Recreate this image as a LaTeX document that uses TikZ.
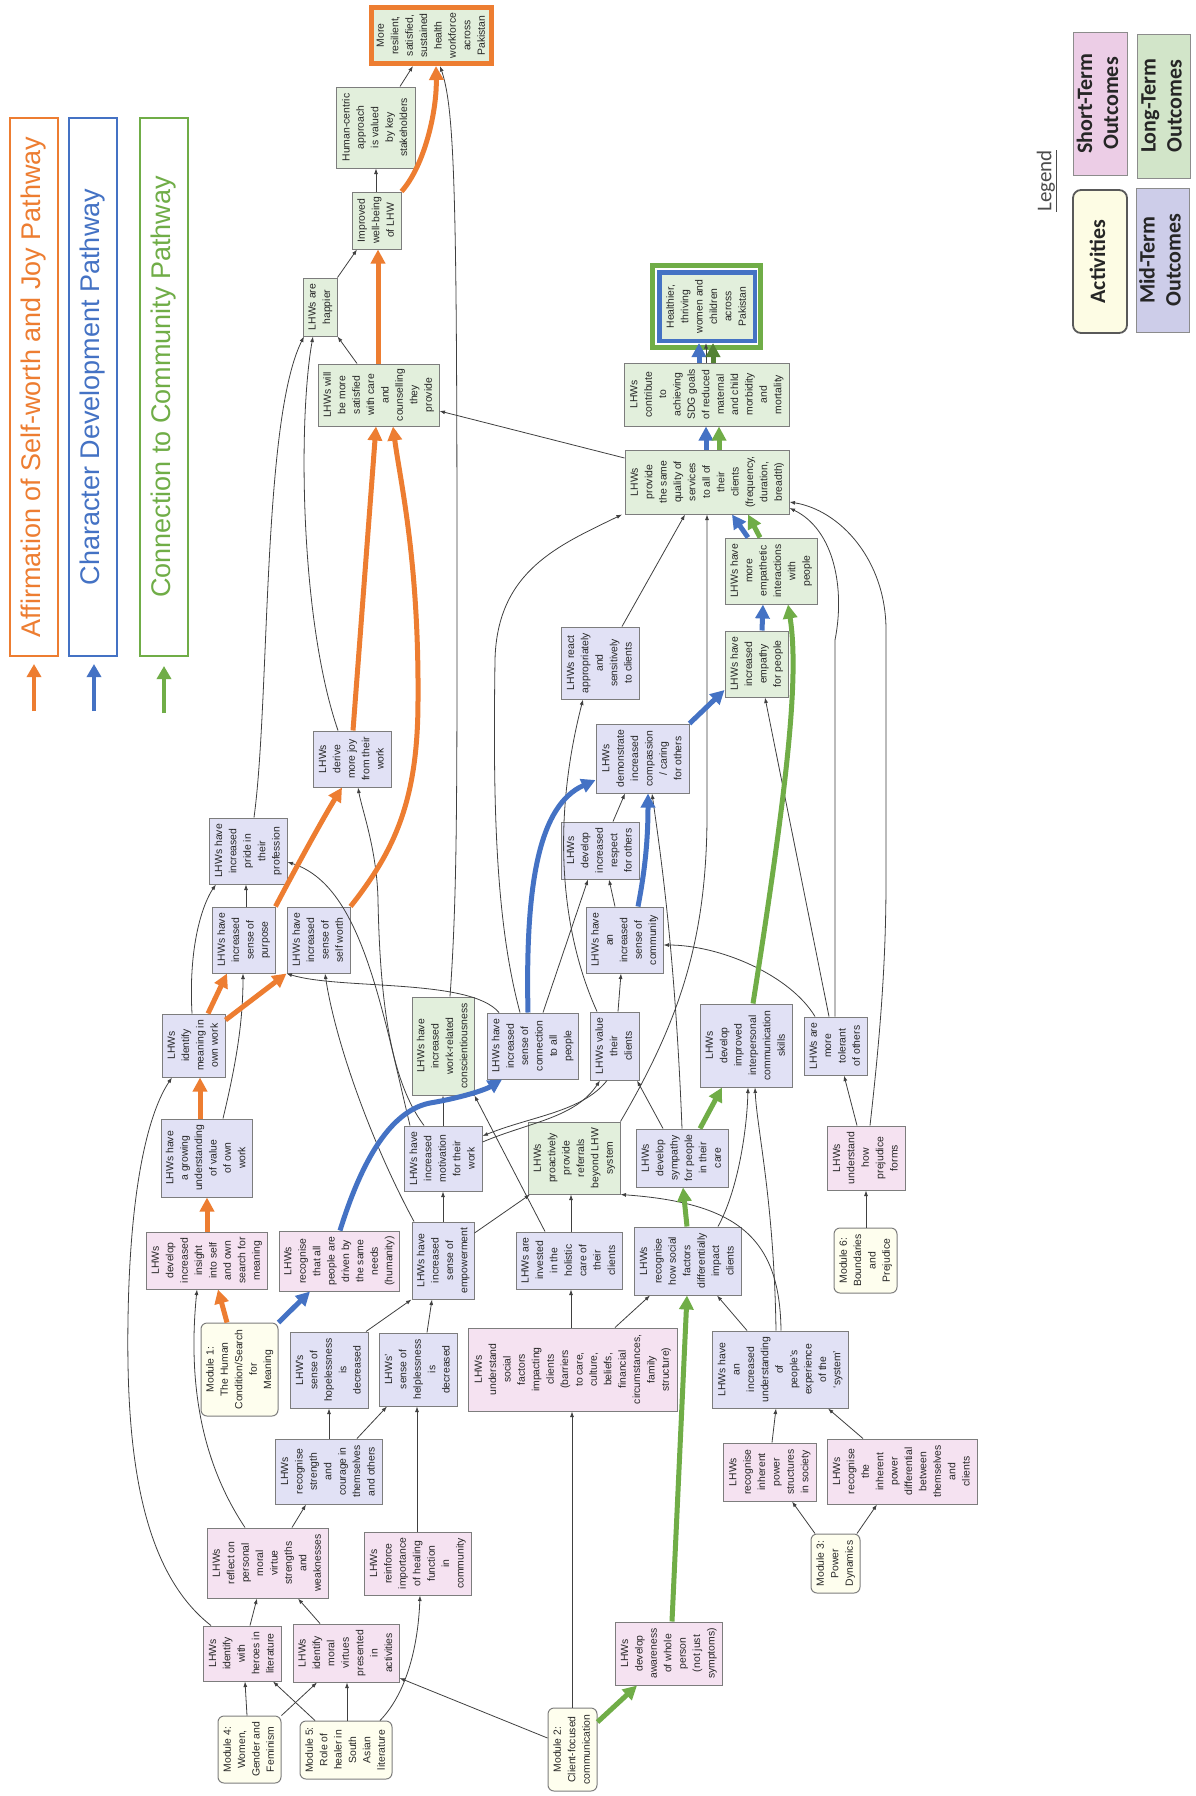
\documentclass[tikz,border=0pt]{standalone}
\usepackage{graphicx}
\usepackage{fontspec}
\setmainfont{Liberation Sans}
\newfontfamily\legfont{Carlito}
\usetikzlibrary{arrows.meta}
\definecolor{cst}{RGB}{245,226,241}
\definecolor{cmt}{RGB}{225,225,245}
\definecolor{clt}{RGB}{226,239,220}
\definecolor{cact}{RGB}{254,254,238}
\definecolor{cbord}{RGB}{125,125,125}
\definecolor{corg}{RGB}{237,125,49}
\definecolor{cblu}{RGB}{68,114,196}
\definecolor{cgrn}{RGB}{112,173,71}
\definecolor{cdgrn}{RGB}{84,130,53}
\definecolor{lpink}{RGB}{236,205,230}
\definecolor{llav}{RGB}{205,205,233}
\definecolor{lgrn}{RGB}{210,229,201}
\definecolor{lyel}{RGB}{253,252,228}
\newcommand\rt[1]{\rotatebox{90}{\begin{tabular}{@{}c@{}}#1\end{tabular}}}
\newcommand\bx[7]{\node[#6, minimum width={(#4)-(#2)}, minimum height={(#5)-(#3)}] (#1) at ({((#2)+(#4))/2},{((#3)+(#5))/2}) {\rt{#7}};}
\tikzset{
 bxs/.style={draw=cbord, line width=1pt, inner sep=0pt, text=black!85, font=\fontsize{10.4}{14.4}\selectfont},
 st/.style={bxs, fill=cst}, mt/.style={bxs, fill=cmt}, lt/.style={bxs, fill=clt},
 act/.style={bxs, fill=cact, rounded corners=6pt},
 th/.style={draw=black!75, line width=0.8pt, -{Latex[length=5.5pt,width=4pt]}},
 thk/.style={line width=5pt, -{Triangle[length=14pt,width=14pt]}},
 orx/.style={thk, draw=corg}, blx/.style={thk, draw=cblu}, grx/.style={thk, draw=cgrn},
 legbar/.style={line width=1.8pt, inner sep=0pt, minimum width=48, minimum height=538, font=\fontsize{27}{30}\selectfont},
 legbox/.style={draw=black!45, line width=1pt, inner sep=0pt, font=\legfont\bfseries\fontsize{22}{26}\selectfont, text=black!85},
}
\begin{document}
\begin{tikzpicture}[x=1pt,y=-1pt]
\useasboundingbox (0,0) rectangle (1195,1796);
\fill[white] (0,0) rectangle (1195,1796);

% ---------- legend bars ----------
\node[legbar, draw=corg, text=corg] (lgo) at (34,387) {\rotatebox{90}{Affirmation of Self-worth and Joy Pathway}};
\node[legbar, draw=cblu, text=cblu] (lgb) at (93,387) {\rotatebox{90}{Character Development Pathway}};
\node[legbar, draw=cgrn, text=cgrn] (lgg) at (164,387) {\rotatebox{90}{Connection to Community Pathway}};
\coordinate (lao1) at (34,711); \coordinate (lao2) at (34,664);
\coordinate (lab1) at (94,711); \coordinate (lab2) at (94,664);
\coordinate (lag1) at (164,713); \coordinate (lag2) at (164,666);
\draw[line width=4pt, corg, -{Triangle[length=13pt,width=14pt]}] (lao1) -- (lao2);
\draw[line width=4pt, cblu, -{Triangle[length=13pt,width=14pt]}] (lab1) -- (lab2);
\draw[line width=4pt, cgrn, -{Triangle[length=13pt,width=14pt]}] (lag1) -- (lag2);

% ---------- legend key ----------
\node[text=black!70, font=\legfont\fontsize{21}{24}\selectfont, inner sep=0pt] (leg) at (1047,181) {\rotatebox{90}{\underline{Legend}}};
\node[legbox, fill=lpink, minimum width=54, minimum height=143] (kst) at (1100,103.5) {\rt{Short-Term\\Outcomes}};
\node[legbox, fill=lyel, draw=black!65, line width=1.8pt, rounded corners=8pt, minimum width=54, minimum height=143] (kact) at (1100,261.5) {\rt{Activities}};
\node[legbox, fill=lgrn, minimum width=53, minimum height=144] (klt) at (1163.5,106) {\rt{Long-Term\\Outcomes}};
\node[legbox, fill=llav, minimum width=53, minimum height=144] (kmt) at (1162.5,260) {\rt{Mid-Term\\Outcomes}};

% ---------- nodes ----------
\bx{res}{371.5}{7.5}{491.5}{63.5}{lt, draw=corg, line width=5pt}{More\\resilient,\\satisfied,\\sustained\\health\\workforce\\across\\Pakistan}
\draw[cgrn, line width=5pt] (652.5,265.5) rectangle (760.5,347.5);
\bx{hth}{659.25}{272.25}{754.75}{340.75}{lt, draw=cblu, line width=4.5pt}{Healthier,\\thriving\\women and\\children\\across\\Pakistan}
\bx{hc}{336}{87}{415}{168}{lt}{Human-centric\\approach\\is valued\\by key\\stakeholders}
\bx{imp}{352}{192}{401}{249}{lt}{Improved\\well-being\\of LHW}
\bx{hap}{303}{278}{337}{336}{lt}{LHWs are\\happier}
\bx{sat}{318}{364}{439}{426}{lt}{LHWs will\\be more\\satisfied\\with care\\and\\counselling\\they\\provide}
\bx{sdg}{624}{363}{789}{426}{lt}{LHWs\\contribute\\to\\achieving\\SDG goals\\of reduced\\maternal\\and child\\morbidity\\and\\mortality}
\bx{same}{625}{450}{789}{514}{lt}{LHWs\\provide\\the same\\quality of\\services\\to all of\\their\\clients\\(frequency,\\duration,\\breadth)}
\bx{empa}{725}{538}{817}{604}{lt}{LHWs have\\more\\empathetic\\interactions\\with\\people}
\bx{empy}{725}{631}{788}{697}{lt}{LHWs have\\increased\\empathy\\for people}
\bx{react}{561}{627}{639}{699}{mt}{LHWs react\\appropriately\\and\\sensitively\\to clients}
\bx{comp}{596}{724}{689}{793}{mt}{LHWs\\demonstrate\\increased\\compassion\\/ caring\\for others}
\bx{resp}{561}{822}{639}{879}{mt}{LHWs\\develop\\increased\\respect\\for others}
\bx{joy}{313}{731}{391}{787}{mt}{LHWs\\derive\\more joy\\from their\\work}
\bx{pride}{209}{818}{287}{884}{mt}{LHWs have\\increased\\pride in\\their\\profession}
\bx{purp}{212}{907}{275}{973}{mt}{LHWs have\\increased\\sense of\\purpose}
\bx{worth}{287}{907}{350}{973}{mt}{LHWs have\\increased\\sense of\\self worth}
\bx{mean}{162}{1014}{225}{1077}{mt}{LHWs\\identify\\meaning in\\own work}
\bx{grow}{161}{1119}{252}{1197}{mt}{LHWs have\\a growing\\understanding\\of value\\of own\\work}
\bx{cons}{412}{997}{474}{1095}{lt}{LHWs have\\increased\\work-related\\conscientiousness}
\bx{conn}{487}{1013}{578}{1079}{mt}{LHWs have\\increased\\sense of\\connection\\to all\\people}
\bx{comm}{586}{907}{663}{973}{mt}{LHWs have\\an\\increased\\sense of\\community}
\bx{val}{590}{1012}{639}{1080}{mt}{LHWs value\\their\\clients}
\bx{ipc}{700}{1004}{792}{1087}{mt}{LHWs\\develop\\improved\\interpersonal\\communication\\skills}
\bx{tol}{804}{1017}{867}{1075}{mt}{LHWs are\\more\\tolerant\\of others}
\bx{mot}{404}{1126}{482}{1191}{mt}{LHWs have\\increased\\motivation\\for their\\work}
\bx{ref}{528}{1122}{620}{1194}{lt}{LHWs\\proactively\\provide\\referrals\\beyond LHW\\system}
\bx{symp}{636}{1129}{728}{1187}{mt}{LHWs\\develop\\sympathy\\for people\\in their\\care}
\bx{prej}{827}{1126}{905}{1190}{st}{LHWs\\understand\\how\\prejudice\\forms}
\bx{m6}{834}{1228}{897}{1293}{act}{Module 6:\\Boundaries\\and\\Prejudice}
\bx{emp}{412}{1222}{474}{1299}{mt}{LHWs have\\increased\\sense of\\empowerment}
\bx{hol}{516}{1232}{622}{1289}{mt}{LHWs are\\invested\\in the\\holistic\\care of\\their\\clients}
\bx{rsf}{634}{1227}{741}{1295}{mt}{LHWs\\recognise\\how social\\factors\\differentially\\impact\\clients}
\bx{ins}{146}{1232}{267}{1289}{st}{LHWs\\develop\\increased\\insight\\into self\\and own\\search for\\meaning}
\bx{hum}{279}{1231}{399}{1291}{st}{LHWs\\recognise\\that all\\people are\\driven by\\the same\\needs\\(humanity)}
\bx{m1}{201}{1323}{278}{1416}{act}{Module 1:\\The Human\\Condition/Search\\for\\Meaning}
\bx{hope}{290}{1332}{368}{1408}{mt}{LHW’s\\sense of\\hopelessness\\is\\decreased}
\bx{help}{379}{1333}{457}{1406}{mt}{LHWs’\\sense of\\helplessness\\is\\decreased}
\bx{usf}{468}{1328}{677}{1411}{st}{LHWs\\understand\\social\\factors\\impacting\\clients\\(barriers\\to care,\\culture,\\beliefs,\\financial\\circumstances,\\family\\structure)}
\bx{sys}{712}{1331}{848}{1408}{mt}{LHWs have\\an\\increased\\understanding\\of\\people’s\\experience\\of the\\‘system’}
\bx{stren}{275}{1439}{382}{1504}{mt}{LHWs\\recognise\\strength\\and\\courage in\\themselves\\and others}
\bx{struc}{723}{1443}{816}{1501}{st}{LHWs\\recognise\\inherent\\power\\structures\\in society}
\bx{diff}{827}{1439}{977}{1504}{st}{LHWs\\recognise\\the\\inherent\\power\\differential\\between\\themselves\\and\\clients}
\bx{m3}{811}{1534}{860}{1593}{act}{Module 3:\\Power\\Dynamics}
\bx{refl}{207}{1528}{328}{1598}{st}{LHWs\\reflect on\\personal\\moral\\virtue\\strengths\\and\\weaknesses}
\bx{reinf}{364}{1532}{471}{1595}{st}{LHWs\\reinforce\\importance\\of healing\\function\\in\\community}
\bx{hero}{203}{1626}{281}{1681}{st}{LHWs\\identify\\with\\heroes in\\literature}
\bx{virt}{293}{1624}{399}{1682}{st}{LHWs\\identify\\moral\\virtues\\presented\\in\\activities}
\bx{whole}{615}{1622}{722}{1685}{st}{LHWs\\develop\\awareness\\of whole\\person\\(not just\\symptoms)}
\bx{m2}{548}{1708}{597}{1791}{act}{Module 2:\\Client-focused\\communication}
\bx{m4}{218}{1716}{281}{1783}{act}{Module 4:\\Women,\\Gender and\\Feminism}
\bx{m5}{300}{1721}{392}{1779}{act}{Module 5:\\Role of\\healer in\\South\\Asian\\literature}

% ---------- thin connectors ----------
\draw[th] (hc.north -| 400,0) -- (res.south -| 413,0);
\draw[th] (imp.north -| 376,0) -- (hc.south -| 376,0);
\draw[th] (hap.north east) -- (imp.south -| 357,0);
\draw[th] (sat.north -| 357,0) -- (hap.south east);
\draw[th] (pride.north -| 254,0) .. controls (270,700) and (262,420) .. (hap.south -| 304,0);
\draw[th] (joy.north -| 338,0) .. controls (300,620) and (298,420) .. (hap.south -| 313,0);
\draw[th] (cons.north -| 450,0) .. controls (457,900) and (457,800) .. (457,600) .. controls (457,200) and (455,110) .. (res.south -| 440,0);
\draw[th] (same.west |- 0,458) -- (sat.east |- 0,411);
\draw[th] (react.north -| 622,0) -- (same.south -| 685,0);
\draw[th] (conn.north -| 520,0) .. controls (495,920) and (493,800) .. (495,660) .. controls (497,570) and (560,545) .. (same.south -| 622,0);
\draw[th] (ref.north east) .. controls (680,1020) and (706,940) .. (707,820) -- (same.south -| 707,0);
\draw[th] (tol.north -| 835,0) -- (835,640) .. controls (845,590) and (835,530) .. (same.east |- 0,508);
\draw[th] (prej.north -| 870,0) .. controls (882,1020) and (886,950) .. (886,880) -- (886,630) .. controls (886,560) and (840,510) .. (same.east |- 0,502);
\draw[th] (tol.north -| 829,0) -- (empy.south -| 765,0);
\draw[th] (tol.north -| 815,0) .. controls (790,975) and (720,945) .. (comm.east |- 0,945);
\draw[th] (symp.north -| 682,0) .. controls (675,950) and (660,850) .. (comp.south -| 652,0);
\draw[th] (symp.north -| 663,0) -- (val.south -| 637,0);
\draw[th] (val.north -| 597,0) .. controls (560,930) and (552,820) .. (react.south -| 583,0);
\draw[th] (conn.north -| 543,0) -- (resp.south -| 588,0);
\draw[th] (comm.north -| 615,0) -- (resp.south -| 609,0);
\draw[th] (resp.north -| 613,0) -- (comp.south -| 625,0);
\draw[th] (val.north -| 618,0) -- (comm.south -| 621,0);
\draw[th] (mot.east |- 0,1142) .. controls (530,1122) and (575,1118) .. (val.south -| 600,0);
\draw[th] (val.south -| 607,0) .. controls (582,1112) and (532,1116) .. (mot.east |- 0,1136);
\draw[th] (mot.north -| 443,0) -- (cons.south -| 443,0);
\draw[th] (emp.north -| 443,0) -- (mot.south -| 443,0);
\draw[th] (emp.east |- 0,1233) -- (ref.south -| 530,0);
\draw[th] (hol.north -| 571,0) -- (ref.south -| 571,0);
\draw[th] (hol.north -| 545,0) -- (cons.south east);
\draw[th] (sys.north -| 781,0) .. controls (780,1240) and (740,1203) .. (ref.south east);
\draw[th] (sys.north -| 776,0) .. controls (774,1200) and (757,1130) .. (ipc.south -| 755,0);
\draw[th] (rsf.north -| 718,0) .. controls (738,1190) and (747,1130) .. (ipc.south -| 748,0);
\draw[th] (sys.north -| 747,0) -- (rsf.south -| 717,0);
\draw[th] (usf.north -| 615,0) -- (rsf.south -| 650,0);
\draw[th] (usf.north -| 571,0) -- (hol.south -| 571,0);
\draw[th] (m2.north -| 572,0) -- (usf.south -| 572,0);
\draw[th] (m2.west |- 0,1738) -- (virt.east |- 0,1678);
\draw[th] (m5.north -| 380,0) .. controls (405,1695) and (418,1650) .. (reinf.south -| 420,0);
\draw[th] (reinf.north -| 417,0) -- (help.south -| 417,0);
\draw[th] (m4.north -| 247,0) -- (hero.south -| 245,0);
\draw[th] (m4.north east) -- (virt.south -| 317,0);
\draw[th] (m5.north -| 315,0) -- (hero.south -| 273,0);
\draw[th] (m5.north -| 347,0) -- (virt.south -| 347,0);
\draw[th] (hero.north -| 250,0) -- (refl.south -| 257,0);
\draw[th] (virt.north -| 320,0) -- (refl.south -| 298,0);
\draw[th] (refl.north -| 292,0) -- (stren.south -| 306,0);
\draw[th] (stren.north -| 329,0) -- (hope.south -| 329,0);
\draw[th] (stren.north -| 357,0) -- (help.south -| 387,0);
\draw[th] (hope.north -| 366,0) -- (emp.south west);
\draw[th] (help.north -| 427,0) -- (emp.south -| 432,0);
\draw[th] (refl.north -| 245,0) .. controls (200,1460) and (188,1380) .. (ins.south -| 197,0);
\draw[th] (hero.north -| 211,0) .. controls (140,1570) and (126,1450) .. (128,1320) .. controls (130,1180) and (150,1110) .. (mean.south -| 172,0);
\draw[th] (grow.north -| 223,0) .. controls (237,1060) and (243,1020) .. (purp.south -| 243,0);
\draw[th] (mean.north -| 192,0) .. controls (188,940) and (205,900) .. (pride.south -| 216,0);
\draw[th] (purp.north -| 246,0) -- (pride.south -| 246,0);
\draw[th] (mot.north -| 410,0) .. controls (380,1000) and (360,885) .. (pride.east |- 0,862);
\draw[th] (mot.north -| 424,0) .. controls (390,1080) and (380,1000) .. (378,900) .. controls (377,850) and (362,810) .. (joy.south -| 358,0);
\draw[th] (emp.north -| 414,0) .. controls (370,1140) and (335,1040) .. (worth.south -| 325,0);
\draw[th] (conn.north -| 499,0) .. controls (470,978) and (340,990) .. (worth.south west);
\draw[th] (sdg.north -| 706,0) -- (hth.south -| 706,0);
\draw[th] (m6.north -| 866,0) -- (prej.south -| 866,0);
\draw[th] (prej.north -| 857,0) -- (tol.south -| 844,0);
\draw[th] (m3.north -| 815,0) -- (struc.south -| 792,0);
\draw[th] (struc.north -| 772,0) -- (sys.south -| 776,0);
\draw[th] (m3.north -| 857,0) -- (diff.south -| 877,0);
\draw[th] (diff.north -| 863,0) -- (sys.south -| 828,0);

% ---------- orange pathway ----------
\draw[orx] (imp.north east) .. controls (425,165) and (437,110) .. (res.south -| 436,0);
\draw[orx] (sat.north -| 378,0) -- (imp.south -| 378,0);
\draw[orx] (joy.north -| 353,0) -- (sat.south -| 376,0);
\draw[orx] (worth.north east) .. controls (395,850) and (418,800) .. (418,700) .. controls (419,560) and (400,480) .. (sat.south -| 393,0);
\draw[orx] (purp.north east) .. controls (300,860) and (325,815) .. (joy.south -| 342,0);
\draw[orx] (mean.north -| 208,0) -- (purp.south -| 227,0);
\draw[orx] (mean.east |- 0,1020) -- (worth.south west);
\draw[orx] (grow.north -| 200,0) -- (mean.south -| 200,0);
\draw[orx] (ins.north -| 207,0) -- (grow.south -| 207,0);
\draw[orx] (m1.north -| 227,0) -- (ins.south -| 218,0);

% ---------- blue pathway ----------
\draw[blx] (m1.north east) -- (hum.south -| 310,0);
\draw[blx] (hum.north -| 340,0) .. controls (365,1150) and (395,1110) .. (430,1103) .. controls (460,1098) and (485,1090) .. (conn.south -| 502,0);
\draw[blx] (conn.north -| 528,0) .. controls (525,880) and (540,805) .. (comp.west |- 0,780);
\draw[blx] (comm.north -| 638,0) .. controls (645,870) and (648,840) .. (comp.south -| 648,0);
\draw[blx] (comp.north east) -- (empy.west |- 0,690);
\draw[blx] (empy.north -| 762,0) -- (empa.south -| 763,0);
\draw[blx] (empa.north -| 748,0) -- (same.south -| 732,0);
\draw[blx] (same.north -| 706,0) -- (sdg.south -| 706,0);
\draw[blx] (sdg.north -| 699,0) -- (hth.south -| 699,0);

% ---------- green pathway ----------
\draw[grx] (m2.east |- 0,1722) -- (whole.south -| 637,0);
\draw[grx] (whole.north -| 672,0) -- (rsf.south -| 687,0);
\draw[grx] (rsf.north -| 687,0) -- (symp.south -| 683,0);
\draw[grx] (symp.north -| 700,0) -- (ipc.south -| 722,0);
\draw[grx] (ipc.north -| 753,0) .. controls (785,800) and (800,680) .. (empa.south -| 788,0);
\draw[grx] (empa.north -| 760,0) -- (same.south -| 748,0);
\draw[grx] (same.north -| 719,0) -- (sdg.south -| 719,0);
\draw[grx, draw=cdgrn] (sdg.north -| 713,0) -- (hth.south -| 713,0);
\end{tikzpicture}
\end{document}
